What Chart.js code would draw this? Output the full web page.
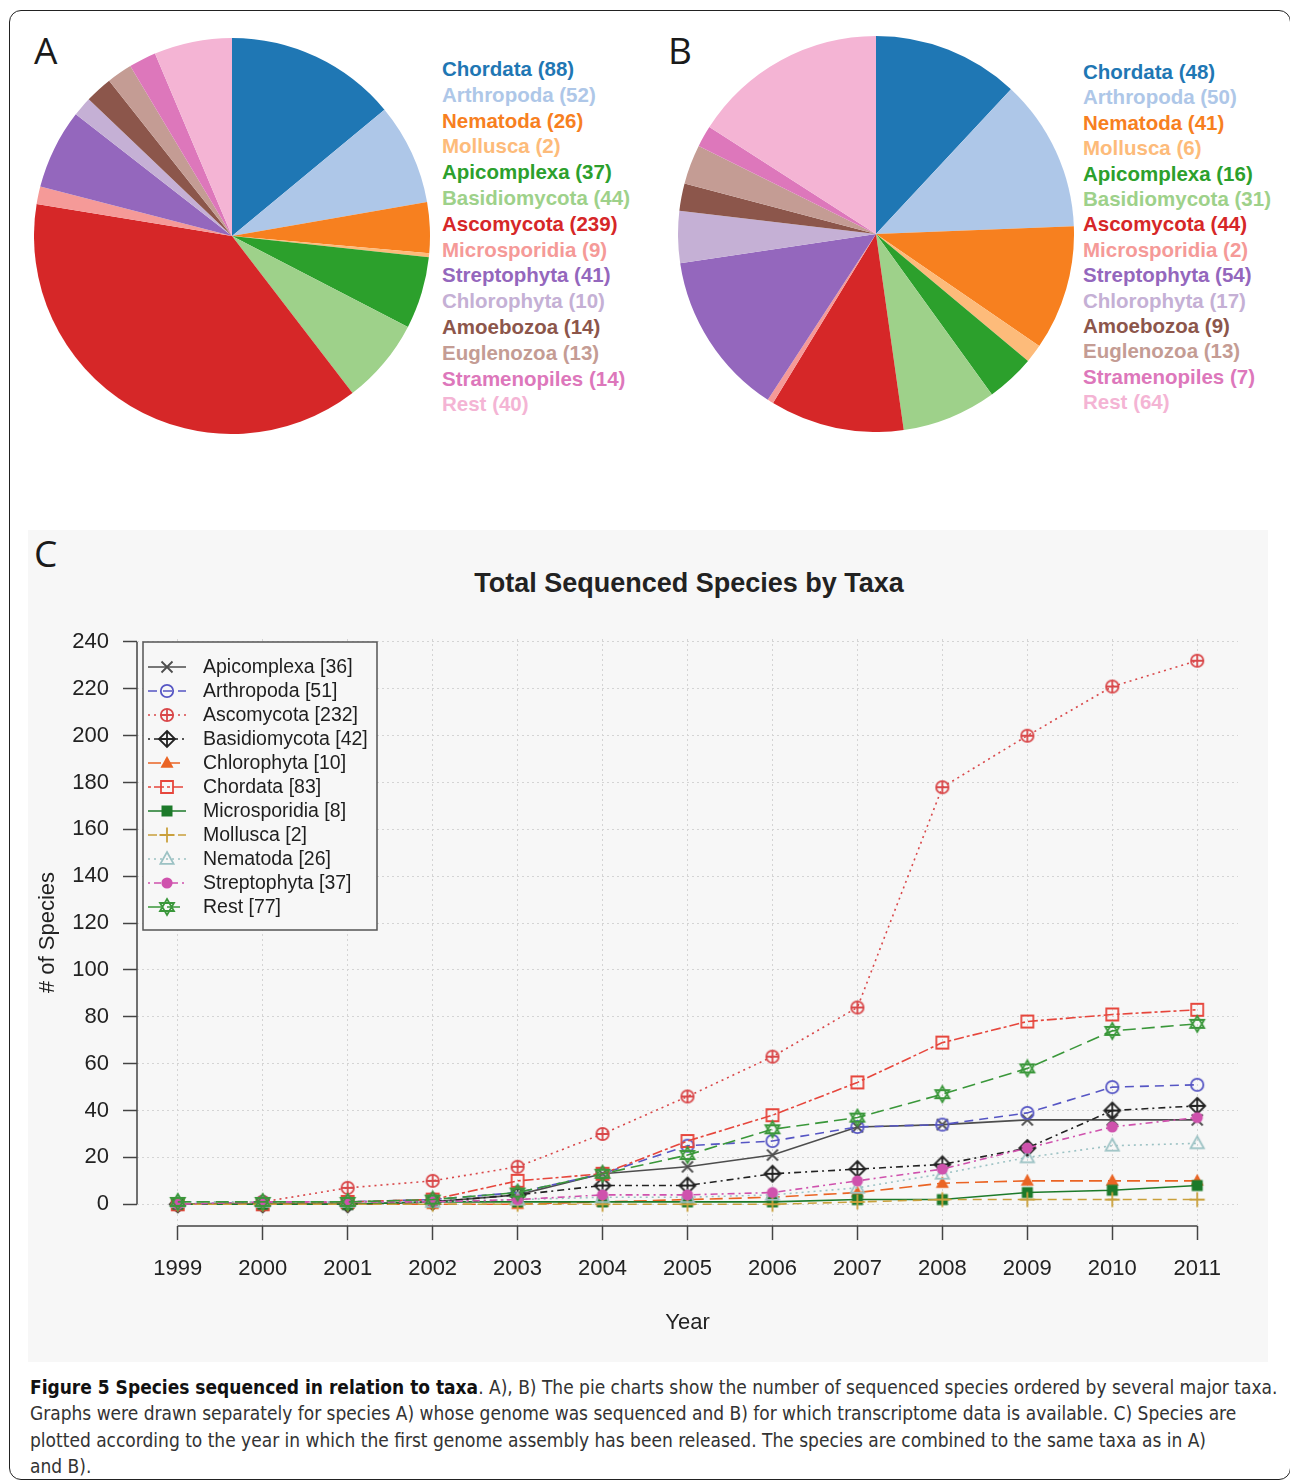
<!DOCTYPE html>
<html>
<head>
<meta charset="utf-8">
<script src="https://cdn.jsdelivr.net/npm/chart.js@4.4.1/dist/chart.umd.min.js"></script>
<style>
  body { margin: 0; width: 1290px; height: 1484px; background: #fff; position: relative; overflow: hidden;
         font-family: "Liberation Sans", Arial, sans-serif; }
  .frame { position: absolute; left: 9px; top: 10px; width: 1282px; height: 1470px;
           border: 1.5px solid #222; border-radius: 12px; box-sizing: border-box; }
  .tag { position: absolute; font-family: "Open Sans", sans-serif; font-size: 37px; color: #1a1a1a; line-height: 1; }
  .pie { position: absolute; }
  .pielabels { position: absolute; font-weight: bold; font-size: 20.5px; white-space: nowrap; }
  #panelC { position: absolute; left: 28px; top: 530px; width: 1240px; height: 832px; background: #f7f7f7; }
  #lineTitle { position: absolute; left: 389px; width: 600px; top: 568px; text-align: center;
               font-weight: bold; font-size: 27px; color: #222; }
  #caption { position: absolute; left: 30px; top: 1374px; line-height: 26.4px; color: #333;
             font-family: "Liberation Sans Narrow", "DejaVu Sans Condensed", "Liberation Sans", sans-serif;
             white-space: nowrap; }
  #caption b { color: #111; }
</style>
</head>
<body>
<div class="frame"></div>

<div class="tag" style="left:34px; top:31px;">A</div>
<div class="tag" style="left:668px; top:31px;">B</div>
<canvas id="pieA" class="pie" width="396" height="396" style="left:34px; top:38px;"></canvas>
<canvas id="pieB" class="pie" width="396" height="396" style="left:678px; top:36px;"></canvas>
<div id="labelsA" class="pielabels" style="left:442px; top:56px; line-height:25.8px;"></div>
<div id="labelsB" class="pielabels" style="left:1083px; top:59px; line-height:25.4px;"></div>

<div id="panelC"></div>
<div class="tag" style="left:34px; top:534px;">C</div>
<div id="lineTitle">Total Sequenced Species by Taxa</div>
<canvas id="lineC" width="1240" height="832" style="position:absolute; left:28px; top:530px;"></canvas>

<div id="caption">
  <div id="cap1"><b>Figure 5 Species sequenced in relation to taxa</b>. A), B) The pie charts show the number of sequenced species ordered by several major taxa.</div>
  <div>Graphs were drawn separately for species A) whose genome was sequenced and B) for which transcriptome data is available. C) Species are</div>
  <div>plotted according to the year in which the first genome assembly has been released. The species are combined to the same taxa as in A)</div>
  <div>and B).</div>
</div>

<script>
// pie charts (A: genomes, B: transcriptomes)
const pieTaxa = ['Chordata', 'Arthropoda', 'Nematoda', 'Mollusca', 'Apicomplexa', 'Basidiomycota', 'Ascomycota',
                 'Microsporidia', 'Streptophyta', 'Chlorophyta', 'Amoebozoa', 'Euglenozoa', 'Stramenopiles', 'Rest'];
const genomeCounts = [88, 52, 26, 2, 37, 44, 239, 9, 41, 10, 14, 13, 14, 40];
const transcriptomeCounts = [48, 50, 41, 6, 16, 31, 44, 2, 54, 17, 9, 13, 7, 64];
const pieColors = ['#1f77b4', '#aec7e8', '#f7801f', '#fdbb7a', '#2ca02c', '#9ed18a', '#d62728',
                   '#f59a98', '#9467bd', '#c5b0d5', '#8c564b', '#c49c94', '#dd77bb', '#f4b4d4'];

// line chart (cumulative species per year)
const years = [1999, 2000, 2001, 2002, 2003, 2004, 2005, 2006, 2007, 2008, 2009, 2010, 2011];
const yTicks = [0, 20, 40, 60, 80, 100, 120, 140, 160, 180, 200, 220, 240];
const apicomplexa   = [0, 0, 0, 1, 4, 13, 16, 21, 33, 34, 36, 36, 36];
const arthropoda    = [0, 1, 1, 2, 5, 13, 25, 27, 33, 34, 39, 50, 51];
const ascomycota    = [0, 1, 7, 10, 16, 30, 46, 63, 84, 178, 200, 221, 232];
const basidiomycota = [0, 0, 0, 1, 4, 8, 8, 13, 15, 17, 24, 40, 42];
const chlorophyta   = [0, 0, 0, 0, 0, 1, 2, 3, 5, 9, 10, 10, 10];
const chordata      = [0, 0, 1, 2, 10, 13, 27, 38, 52, 69, 78, 81, 83];
const microsporidia = [0, 0, 0, 1, 1, 1, 1, 1, 2, 2, 5, 6, 8];
const mollusca      = [0, 0, 0, 0, 0, 0, 0, 0, 1, 2, 2, 2, 2];
const nematoda      = [1, 1, 1, 1, 2, 3, 3, 4, 7, 13, 20, 25, 26];
const streptophyta  = [0, 1, 1, 1, 2, 4, 4, 5, 10, 15, 24, 33, 37];
const rest          = [1, 1, 1, 2, 5, 13, 21, 32, 37, 47, 58, 74, 77];

function fillLabels(id, counts) {
    const box = document.getElementById(id);
    pieTaxa.forEach((name, i) => {
        const d = document.createElement('div');
        d.textContent = name + ' (' + counts[i] + ')';
        d.style.color = pieColors[i];
        box.appendChild(d);
    });
}

function makePie(id, counts) {
    return new Chart(document.getElementById(id), {
        type: 'pie',
        data: {
            labels: pieTaxa,
            datasets: [{ data: counts, backgroundColor: pieColors, borderWidth: 0 }]
        },
        options: {
            responsive: false,
            animation: false,
            layout: { padding: 0 },
            plugins: { legend: { display: false }, tooltip: { enabled: false } }
        }
    });
}

fillLabels('labelsA', genomeCounts);
fillLabels('labelsB', transcriptomeCounts);
makePie('pieA', genomeCounts);
makePie('pieB', transcriptomeCounts);

// R-like plotting symbols
function makeMarker(kind, color) {
    const c = document.createElement('canvas');
    c.width = 20; c.height = 20;
    const g = c.getContext('2d');
    g.strokeStyle = color; g.fillStyle = color; g.lineWidth = 1.8;
    g.translate(10, 10);
    g.beginPath();
    if (kind === 'x') {
        g.moveTo(-5.5, -5.5); g.lineTo(5.5, 5.5); g.moveTo(5.5, -5.5); g.lineTo(-5.5, 5.5); g.stroke();
    } else if (kind === 'circle') {
        g.arc(0, 0, 6.2, 0, Math.PI * 2); g.stroke();
    } else if (kind === 'circleplus') {
        g.arc(0, 0, 6.2, 0, Math.PI * 2);
        g.moveTo(-6.2, 0); g.lineTo(6.2, 0); g.moveTo(0, -6.2); g.lineTo(0, 6.2); g.stroke();
    } else if (kind === 'diamondplus') {
        g.moveTo(0, -8); g.lineTo(8, 0); g.lineTo(0, 8); g.lineTo(-8, 0); g.closePath();
        g.moveTo(-8, 0); g.lineTo(8, 0); g.moveTo(0, -8); g.lineTo(0, 8); g.stroke();
    } else if (kind === 'trifill') {
        g.moveTo(0, -7); g.lineTo(6.5, 4.8); g.lineTo(-6.5, 4.8); g.closePath(); g.fill();
    } else if (kind === 'tri') {
        g.moveTo(0, -7); g.lineTo(6.6, 4.8); g.lineTo(-6.6, 4.8); g.closePath(); g.stroke();
    } else if (kind === 'square') {
        g.rect(-6, -6, 12, 12); g.stroke();
    } else if (kind === 'squarefill') {
        g.rect(-5.5, -5.5, 11, 11); g.fill();
    } else if (kind === 'plus') {
        g.moveTo(-7.5, 0); g.lineTo(7.5, 0); g.moveTo(0, -7.5); g.lineTo(0, 7.5); g.stroke();
    } else if (kind === 'dotfill') {
        g.arc(0, 0, 5.6, 0, Math.PI * 2); g.fill();
    } else if (kind === 'star') {
        g.moveTo(0, -8); g.lineTo(7, 4); g.lineTo(-7, 4); g.closePath();
        g.moveTo(0, 8); g.lineTo(7, -4); g.lineTo(-7, -4); g.closePath(); g.stroke();
    }
    return c;
}

const series = [
    { label: 'Apicomplexa',   data: apicomplexa,   color: '#4d4d4d', dash: [],              marker: 'x' },
    { label: 'Arthropoda',    data: arthropoda,    color: '#5656c4', dash: [9, 6],          marker: 'circle' },
    { label: 'Ascomycota',    data: ascomycota,    color: '#d9484a', dash: [2, 4],          marker: 'circleplus' },
    { label: 'Basidiomycota', data: basidiomycota, color: '#222222', dash: [2, 4, 7, 4],    marker: 'diamondplus' },
    { label: 'Chlorophyta',   data: chlorophyta,   color: '#ea6424', dash: [13, 6],         marker: 'trifill' },
    { label: 'Chordata',      data: chordata,      color: '#e6463c', dash: [3, 3, 10, 3],   marker: 'square' },
    { label: 'Microsporidia', data: microsporidia, color: '#1c7a2a', dash: [],              marker: 'squarefill' },
    { label: 'Mollusca',      data: mollusca,      color: '#c9a03c', dash: [9, 6],          marker: 'plus' },
    { label: 'Nematoda',      data: nematoda,      color: '#9cc2c4', dash: [2, 4],          marker: 'tri' },
    { label: 'Streptophyta',  data: streptophyta,  color: '#cf52ad', dash: [2, 4, 7, 4],    marker: 'dotfill' },
    { label: 'Rest',          data: rest,          color: '#3a973a', dash: [13, 6],         marker: 'star' }
];

const datasets = series.map((s, i) => ({
    label: s.label,
    data: years.map((y, k) => ({ x: y, y: s.data[k] })),
    borderColor: s.color,
    borderWidth: 1.6,
    borderDash: s.dash,
    pointStyle: makeMarker(s.marker, s.color),
    pointRadius: 6,
    fill: false,
    tension: 0,
    order: series.length - i
}));

// axis lines that only span the first to last tick, like R
const rAxes = {
    id: 'rAxes',
    afterDraw(chart) {
        const { ctx, chartArea, scales } = chart;
        ctx.save();
        ctx.strokeStyle = '#444';
        ctx.lineWidth = 1.5;
        ctx.beginPath();
        ctx.moveTo(chartArea.left, scales.y.getPixelForValue(yTicks[0]));
        ctx.lineTo(chartArea.left, scales.y.getPixelForValue(yTicks[yTicks.length - 1]));
        ctx.moveTo(scales.x.getPixelForValue(years[0]), chartArea.bottom);
        ctx.lineTo(scales.x.getPixelForValue(years[years.length - 1]), chartArea.bottom);
        ctx.stroke();
        ctx.restore();
    }
};

// boxed legend in the top-left corner of the plot
const boxLegend = {
    id: 'boxLegend',
    afterDraw(chart) {
        const { ctx, chartArea } = chart;
        const left = chartArea.left + 6, top = chartArea.top + 3;
        const w = 234, h = 288, rowH = 24;
        ctx.save();
        ctx.fillStyle = '#f7f7f7';
        ctx.fillRect(left, top, w, h);
        ctx.strokeStyle = '#555';
        ctx.lineWidth = 1.5;
        ctx.strokeRect(left, top, w, h);
        ctx.font = '19.5px "Liberation Sans", Arial, sans-serif';
        ctx.textBaseline = 'middle';
        chart.data.datasets.forEach((ds, i) => {
            const y = top + 25 + i * rowH;
            ctx.strokeStyle = ds.borderColor;
            ctx.lineWidth = 1.5;
            ctx.setLineDash(ds.borderDash);
            ctx.beginPath();
            ctx.moveTo(left + 5, y);
            ctx.lineTo(left + 43, y);
            ctx.stroke();
            ctx.setLineDash([]);
            const m = ds.pointStyle;
            ctx.drawImage(m, left + 24 - m.width / 2, y - m.height / 2);
            ctx.fillStyle = '#1e1e1e';
            const last = ds.data[ds.data.length - 1].y;
            ctx.fillText(ds.label + ' [' + last + ']', left + 60, y + 1);
        });
        ctx.restore();
    }
};

const gridStyle = {
    color: '#d4d4d4',
    lineWidth: 1,
    drawTicks: true,
    tickLength: 14,
    tickColor: '#444',
    tickWidth: 1.5,
    tickBorderDash: []
};

new Chart(document.getElementById('lineC'), {
    type: 'line',
    data: { datasets },
    options: {
        responsive: false,
        animation: false,
        layout: { padding: { top: 109, right: 30, left: 0, bottom: 0 } },
        plugins: { legend: { display: false }, tooltip: { enabled: false }, title: { display: false } },
        scales: {
            x: {
                type: 'linear',
                min: 1998.52,
                max: 2011.48,
                afterFit: s => { s.height = 136; },
                afterBuildTicks: s => { s.ticks = years.map(v => ({ value: v })); },
                grid: gridStyle,
                border: { display: false, dash: [2, 3] },
                ticks: {
                    autoSkip: false, maxRotation: 0, padding: 16, color: '#222',
                    font: { size: 22, family: '"Liberation Sans", Arial, sans-serif' },
                    callback: v => String(v)
                },
                title: {
                    display: true, text: 'Year', color: '#222',
                    font: { size: 22, family: '"Liberation Sans", Arial, sans-serif' },
                    padding: { top: 0, bottom: 26 }
                }
            },
            y: {
                min: -9.28,
                max: 241.28,
                afterFit: s => { s.width = 109; },
                afterBuildTicks: s => { s.ticks = yTicks.map(v => ({ value: v })); },
                grid: gridStyle,
                border: { display: false, dash: [2, 3] },
                ticks: {
                    autoSkip: false, padding: 14, color: '#222',
                    font: { size: 22, family: '"Liberation Sans", Arial, sans-serif' }
                },
                title: {
                    display: true, text: '# of Species', color: '#222',
                    font: { size: 22, family: '"Liberation Sans", Arial, sans-serif' },
                    padding: { top: 7, bottom: 0 }
                }
            }
        }
    },
    plugins: [rAxes, boxLegend]
});

// fit caption so the first line spans the same width as the figure text
(function fitCaption() {
    const cap = document.getElementById('caption');
    const first = document.getElementById('cap1');
    cap.style.fontSize = '20px';
    const probe = document.createElement('span');
    probe.innerHTML = first.innerHTML;
    first.innerHTML = '';
    first.appendChild(probe);
    const w = probe.getBoundingClientRect().width;
    const size = Math.max(15, Math.min(24, 20 * 1248 / w));
    cap.style.fontSize = size.toFixed(2) + 'px';
})();
</script>
</body>
</html>
